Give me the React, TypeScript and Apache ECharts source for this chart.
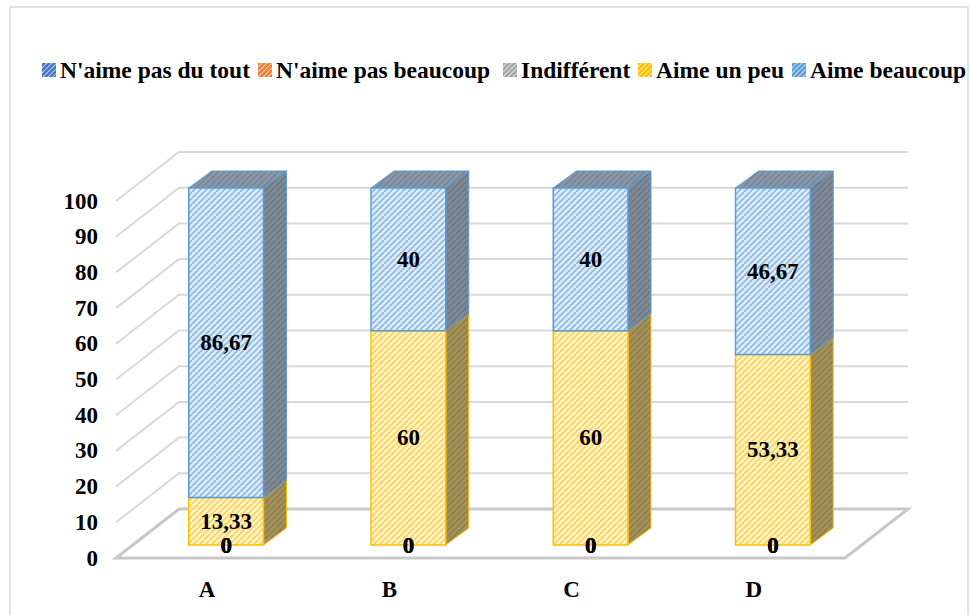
import React, { useEffect, useRef } from 'react';
import * as echarts from 'echarts';

const categories = ['A', 'B', 'C', 'D'];
const seriesNames = ["N'aime pas du tout", "N'aime pas beaucoup", 'Indifférent', 'Aime un peu', 'Aime beaucoup'];
const naimePasDuTout = [0, 0, 0, 0];
const naimePasBeaucoup = [0, 0, 0, 0];
const indifferent = [0, 0, 0, 0];
const aimeUnPeu = [13.33, 60, 60, 53.33];
const aimeBeaucoup = [86.67, 40, 40, 46.67];
const yTicks = [0, 10, 20, 30, 40, 50, 60, 70, 80, 90, 100];

const seriesValues = [naimePasDuTout, naimePasBeaucoup, indifferent, aimeUnPeu, aimeBeaucoup];
const seriesColors = ['#4472C4', '#ED7D31', '#A5A5A5', '#FFC000', '#5B9BD5'];
const sideColors = ['#5E6E8E', '#9A7A62', '#8A8A8A', '#A4925A', '#7D8A97'];
const topColors = ['#6F80A0', '#A98A70', '#989898', '#B7A56B', '#8898A8'];

const FONT = 'Liberation Serif';
const WALL_DX = 63;
const WALL_DY = -49;
const FRONT_DX = 19;
const FRONT_DY = -13;
const BAR_DX = 23;
const BAR_DY = -17;
const BAR_RATIO = 0.41;
const LEGEND_ICON_X = [42, 258, 503, 638, 792];
const LEGEND_Y = 70;

function hexToRgb(h: string) {
  const s = h.replace('#', '');
  return [parseInt(s.slice(0, 2), 16), parseInt(s.slice(2, 4), 16), parseInt(s.slice(4, 6), 16)];
}
function mix(a: string, b: string, t: number) {
  const ca = hexToRgb(a);
  const cb = hexToRgb(b);
  const r = ca.map((v, i) => Math.round(v + (cb[i] - v) * t));
  return 'rgb(' + r.join(',') + ')';
}
function makePattern(bg: string, fg: string, size = 6, lw = 1.6) {
  const c = document.createElement('canvas');
  c.width = size;
  c.height = size;
  const ctx = c.getContext('2d')!;
  ctx.fillStyle = bg;
  ctx.fillRect(0, 0, size, size);
  ctx.strokeStyle = fg;
  ctx.lineWidth = lw;
  for (let k = -1; k <= 1; k++) {
    ctx.beginPath();
    ctx.moveTo(k * size, size);
    ctx.lineTo(k * size + size, 0);
    ctx.stroke();
  }
  return { image: c.toDataURL(), repeat: 'repeat', imageWidth: size, imageHeight: size };
}
function fmt(v: number) {
  return String(v).replace('.', ',');
}

export default function App() {
  const ref = useRef<HTMLDivElement>(null);
  useEffect(() => {
    if (!ref.current) return;
    const chart = echarts.init(ref.current, null, { renderer: 'svg' });

    const frontPatterns = seriesColors.map((c) => makePattern(mix(c, '#FFFFFF', 0.8), mix(c, '#FFFFFF', 0.3)));
    const sidePatterns = sideColors.map((c) => makePattern(c, mix(c, '#000000', 0.12)));
    const topPatterns = topColors.map((c) => makePattern(c, mix(c, '#000000', 0.12)));
    const legendPatterns = seriesColors.map((c) => makePattern(c, mix(c, '#FFFFFF', 0.65), 5, 1.2));

    const bases = categories.map(() => 0);
    const barSeries = seriesValues.map((vals, si) => {
      const data = vals.map((v, i) => {
        const b = bases[i];
        bases[i] = b + v;
        return [i, b, b + v, v];
      });
      return {
        type: 'custom',
        name: seriesNames[si],
        clip: false,
        itemStyle: { color: seriesColors[si] },
        encode: { x: 0, y: [1, 2] },
        data,
        renderItem: (params: any, api: any) => {
          const ci = api.value(0);
          const base = api.value(1);
          const top = api.value(2);
          const val = api.value(3);
          const pb = api.coord([ci, base]);
          const pt = api.coord([ci, top]);
          const band = api.size([1, 0])[0];
          const w = band * BAR_RATIO;
          const x0 = pb[0] + FRONT_DX - w / 2;
          const yb = pb[1] + FRONT_DY;
          const yt = pt[1] + FRONT_DY;
          const col = seriesColors[si];
          const children: any[] = [];
          if (val > 0) {
            children.push({
              type: 'polygon',
              shape: { points: [[x0 + w, yt], [x0 + w + BAR_DX, yt + BAR_DY], [x0 + w + BAR_DX, yb + BAR_DY], [x0 + w, yb]] },
              style: { fill: sidePatterns[si], stroke: col, lineWidth: 1 },
            });
            children.push({
              type: 'polygon',
              shape: { points: [[x0, yt], [x0 + BAR_DX, yt + BAR_DY], [x0 + w + BAR_DX, yt + BAR_DY], [x0 + w, yt]] },
              style: { fill: topPatterns[si], stroke: col, lineWidth: 1 },
            });
            children.push({
              type: 'rect',
              shape: { x: x0, y: yt, width: w, height: yb - yt },
              style: { fill: frontPatterns[si], stroke: col, lineWidth: 1.5 },
            });
          }
          children.push({
            type: 'text',
            z2: 100,
            style: {
              text: fmt(val),
              x: x0 + w / 2,
              y: (yt + yb) / 2,
              align: 'center',
              verticalAlign: 'middle',
              fontFamily: FONT,
              fontWeight: 'bold',
              fontSize: 23,
              fill: '#000',
            },
          });
          return { type: 'group', children };
        },
      };
    });

    const gridSeries = {
      type: 'custom',
      name: 'grid3d',
      silent: true,
      clip: false,
      data: yTicks.map((v) => [0, v]),
      encode: { x: 0, y: 1 },
      renderItem: (params: any, api: any) => {
        const v = api.value(1);
        const p = api.coord([0, v]);
        const band = api.size([1, 0])[0];
        const left = p[0] - band / 2;
        const right = left + band * categories.length;
        if (v === 0) {
          return {
            type: 'polygon',
            shape: { points: [[left, p[1]], [right, p[1]], [right + WALL_DX, p[1] + WALL_DY], [left + WALL_DX, p[1] + WALL_DY]] },
            style: { fill: '#fff', stroke: '#C8C8C8', lineWidth: 3 },
          };
        }
        return {
          type: 'polyline',
          shape: { points: [[left, p[1]], [left + WALL_DX, p[1] + WALL_DY], [right + WALL_DX, p[1] + WALL_DY]] },
          style: { fill: null, stroke: '#D9D9D9', lineWidth: 2 },
        };
      },
    };

    const legendGraphics: any[] = [];
    seriesNames.forEach((n, i) => {
      legendGraphics.push({
        type: 'rect',
        silent: true,
        shape: { x: LEGEND_ICON_X[i], y: LEGEND_Y - 7, width: 14, height: 14 },
        style: { fill: legendPatterns[i], stroke: null },
      });
      legendGraphics.push({
        type: 'text',
        silent: true,
        x: LEGEND_ICON_X[i] + 18,
        y: LEGEND_Y,
        style: {
          text: n,
          fontFamily: FONT,
          fontWeight: 'bold',
          fontSize: 23.5,
          fill: '#000',
          align: 'left',
          verticalAlign: 'middle',
        },
      });
    });

    chart.setOption({
      animation: false,
      backgroundColor: '#fff',
      textStyle: { fontFamily: FONT, fontWeight: 'bold' },
      graphic: [
        {
          type: 'rect',
          silent: true,
          z: -10,
          shape: { x: 10, y: 7, width: 958, height: 640 },
          style: { fill: 'none', stroke: '#D9D9D9', lineWidth: 1.5 },
        },
        ...legendGraphics,
      ],
      grid: { left: 116, right: 125, top: 201, bottom: 57, containLabel: false },
      xAxis: {
        type: 'category',
        data: categories,
        axisLine: { show: false },
        axisTick: { show: false },
        splitLine: { show: false },
        axisLabel: { margin: 20, fontFamily: FONT, fontWeight: 'bold', fontSize: 23, color: '#000' },
      },
      yAxis: {
        type: 'value',
        min: 0,
        max: 100,
        interval: 10,
        axisLine: { show: false },
        axisTick: { show: false },
        splitLine: { show: false },
        axisLabel: { margin: 18, fontFamily: FONT, fontWeight: 'bold', fontSize: 23, color: '#000' },
      },
      series: [gridSeries, ...barSeries],
    });
    return () => chart.dispose();
  }, []);
  return <div ref={ref} style={{ position: 'absolute', left: 0, top: 0, width: 970, height: 615 }} />;
}
